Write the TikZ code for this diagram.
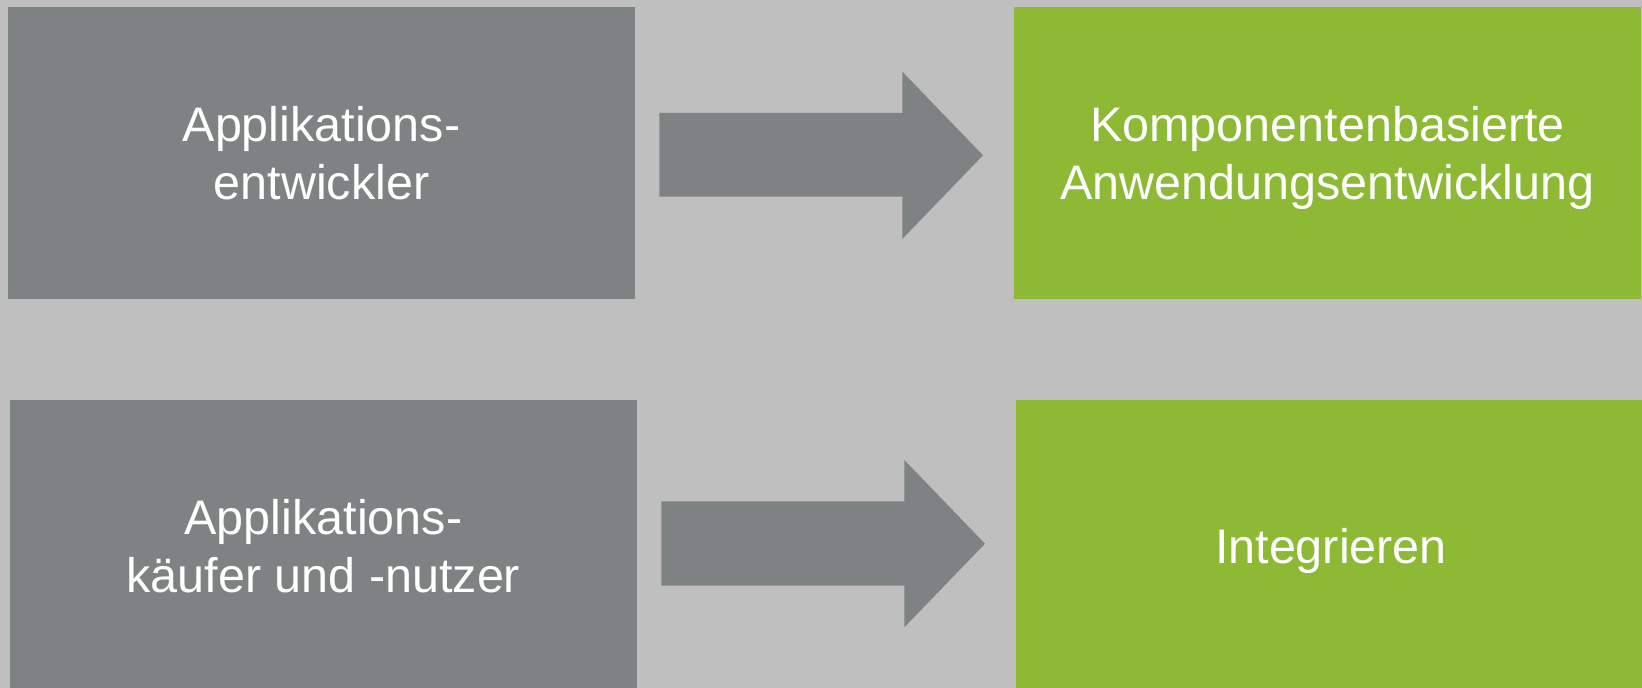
\documentclass[tikz,border=0pt]{standalone}
\usepackage{fontspec}
\setmainfont{Liberation Sans}
\definecolor{bgc}{RGB}{191,191,191}
\definecolor{boxgray}{RGB}{127,130,131}
\definecolor{boxgreen}{RGB}{141,185,52}
\tikzset{
  box/.style={rectangle, inner sep=0pt, outer sep=0pt, text=white, align=center,
    text depth=0pt, font=\fontsize{48.5}{57.7}\selectfont},
  graybox/.style={box, fill=boxgray},
  greenbox/.style={box, fill=boxgreen},
  blockarrow/.style={fill=boxgray}
}
\begin{document}
\begin{tikzpicture}[x=1pt,y=1pt]
\fill[bgc] (0,0) rectangle (1642,688);
\useasboundingbox (0,0) rectangle (1642,688);
\begin{scope}
\clip (0,0) rectangle (1642,688);
% boxes
\node[graybox, minimum width=627pt, minimum height=291.6pt] (dev) at (321.5,535.1) {Applikations-\\entwickler};
\node[greenbox, minimum width=627pt, minimum height=291.6pt] (cbd) at (1327.5,535.1) {Komponentenbasierte\\Anwendungsentwicklung};
\node[graybox, minimum width=627.2pt, minimum height=292pt] (buy) at (323.4,142) {Applikations-\\käufer und -nutzer};
\node[greenbox, minimum width=630pt, minimum height=292pt] (int) at (1331,142) {Integrieren};
% block arrows
\fill[blockarrow] (659.3,575) -- (902.3,575) -- (902.3,616.3) -- (983,532.7)
  -- (902.3,449) -- (902.3,491.3) -- (659.3,491.3) -- cycle;
\fill[blockarrow] (661.3,186.7) -- (904.3,186.7) -- (904.3,228) -- (985,144.3)
  -- (904.3,60.7) -- (904.3,102.3) -- (661.3,102.3) -- cycle;
\end{scope}
\end{tikzpicture}
\end{document}
